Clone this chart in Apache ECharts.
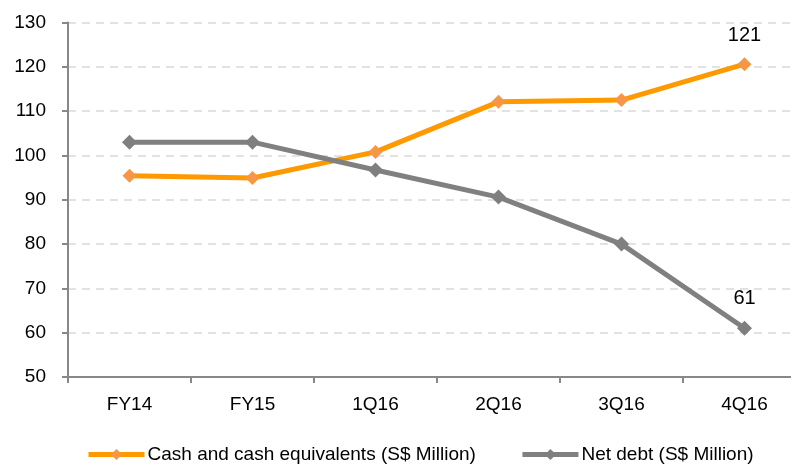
<!DOCTYPE html>
<html>
<head>
<meta charset="utf-8">
<script src="https://cdn.jsdelivr.net/npm/echarts@6/dist/echarts.min.js"></script>
<style>
  html, body { margin: 0; padding: 0; background: #fff; }
  #chart { width: 791px; height: 469px; }
</style>
</head>
<body>
<div id="chart"></div>
<script>
const categories = ['FY14', 'FY15', '1Q16', '2Q16', '3Q16', '4Q16'];
const cashValues = [95.4, 94.9, 100.8, 112.1, 112.5, 120.6];
const debtValues = [103, 103, 96.7, 90.6, 80, 61];
const seriesNames = ['Cash and cash equivalents (S$ Million)', 'Net debt (S$ Million)'];

const chart = echarts.init(document.getElementById('chart'));
const font = '"Liberation Sans", Arial, sans-serif';

// only the last point gets a value label
const lastLabel = values => values.map((v, i) => ({
  value: v,
  label: i === values.length - 1 ? {
    show: true, position: 'top', distance: 12,
    formatter: p => Math.round(p.value), fontSize: 20, color: '#000', fontFamily: font
  } : { show: false }
}));

chart.setOption({
  animation: false,
  grid: { left: 68, width: 738, top: 22.5, bottom: 92, outerBoundsMode: 'none', containLabel: false },
  legend: {
    bottom: 0, left: 81,
    itemWidth: 56, itemHeight: 14, itemGap: 44,
    lineStyle: { width: 5 },
    textStyle: { fontSize: 19, color: '#000', fontFamily: font, padding: [0, 0, 0, -2] },
    data: seriesNames
  },
  xAxis: {
    type: 'category',
    data: categories,
    axisLine: { lineStyle: { color: '#888', width: 2 } },
    axisTick: { show: true, length: 6, lineStyle: { color: '#888', width: 2 } },
    axisLabel: { fontSize: 19, color: '#000', fontFamily: font, margin: 18 }
  },
  yAxis: {
    type: 'value', min: 50, max: 130, interval: 10,
    axisLine: { show: true, lineStyle: { color: '#888', width: 2 } },
    axisTick: { show: true, length: 6, lineStyle: { color: '#888', width: 2 } },
    axisLabel: { fontSize: 19, color: '#000', fontFamily: font, margin: 22 },
    splitLine: { lineStyle: { color: '#d9d9d9', type: [8, 6], width: 1.5 } }
  },
  series: [
    {
      name: seriesNames[0], type: 'line',
      data: lastLabel(cashValues),
      symbol: 'diamond', symbolSize: 14,
      lineStyle: { color: '#ff9900', width: 5 },
      itemStyle: { color: '#f79646' }
    },
    {
      name: seriesNames[1], type: 'line',
      data: lastLabel(debtValues),
      symbol: 'diamond', symbolSize: 15,
      lineStyle: { color: '#808080', width: 5 },
      itemStyle: { color: '#7f7f7f' }
    }
  ]
});
</script>
</body>
</html>
